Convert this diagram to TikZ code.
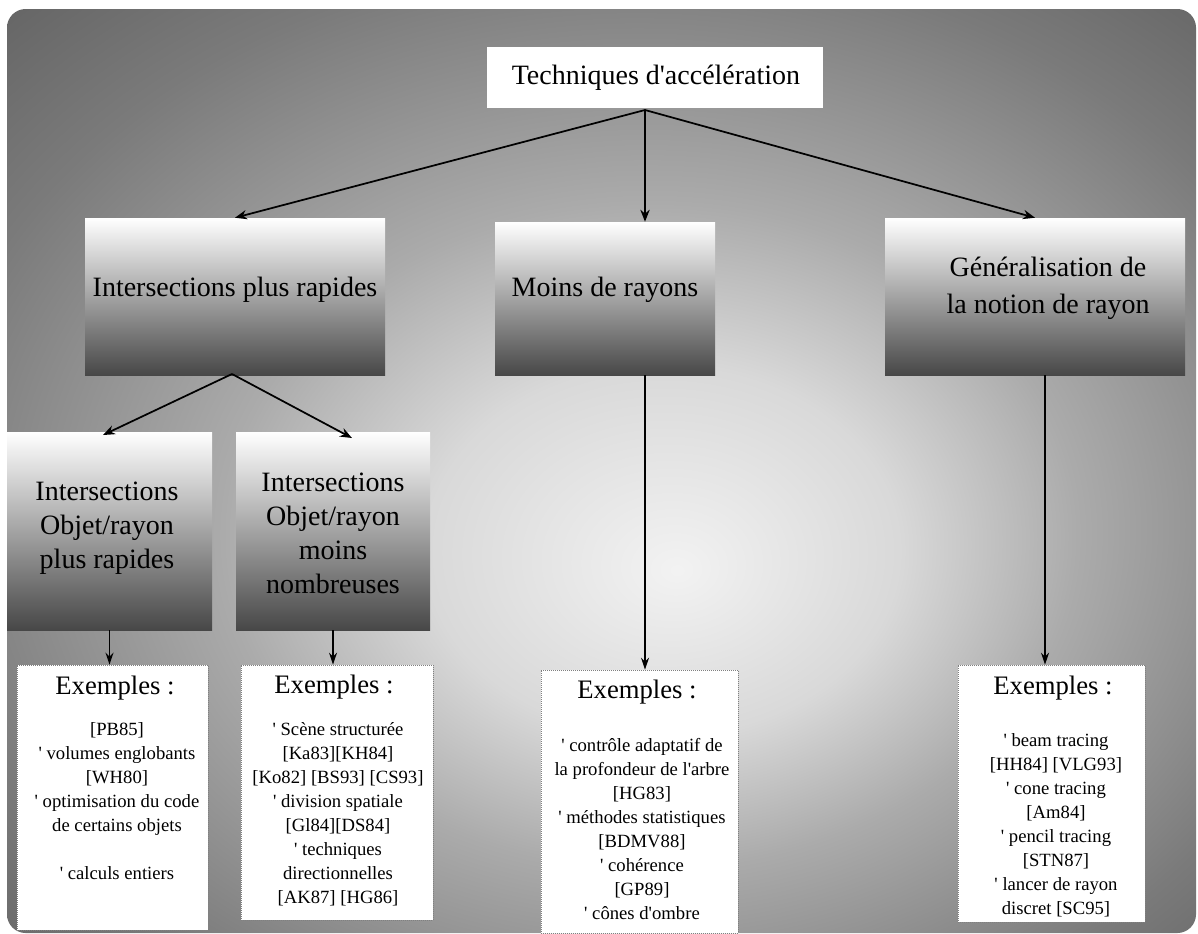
\documentclass[tikz,border=0pt]{standalone}
\usepackage{fontspec}
\setmainfont{Liberation Serif}
\usetikzlibrary{arrows.meta,fit}

% light centre fading to a dark rim
\pgfdeclareradialshading{backdrop}{\pgfpoint{3.2bp}{-5.4bp}}{%
  color(0bp)=(black!5); color(10bp)=(black!15); color(18bp)=(black!33);
  color(30bp)=(black!52); color(42bp)=(black!66); color(50bp)=(black!72)}

\newcommand\bul{\textquotesingle\ }
\newcommand\apo{\textquotesingle}

\tikzset{
  grad/.style={inner sep=0, draw=none, top color=white, middle color=black!28, bottom color=black!72},
  exbox/.style={inner sep=0, fill=white, draw=black!50, densely dotted, line width=0.5pt},
  big/.style={font=\fontsize{21}{26}\selectfont, align=center, inner sep=0},
  head/.style={font=\fontsize{20}{24}\selectfont, inner sep=0},
  body/.style={font=\fontsize{14}{18}\selectfont, align=center, anchor=north, inner sep=0},
  arr/.style={-{Stealth[length=9pt,width=7pt]}, line width=1.3pt},
  arrv/.style={-{Stealth[length=9pt,width=6pt]}, line width=1pt},
}

\begin{document}
\begin{tikzpicture}[x=0.75pt,y=-0.75pt]
\useasboundingbox (0,0) rectangle (1198,933);
\fill[white] (0,0) rectangle (1198,933);
\shade[shading=backdrop, rounded corners=14] (7,9) rectangle (1196,933);

% root
\node[fit={(487,47)(823,108)}, fill=white, inner sep=0] (title) {};
\node[head, font=\fontsize{21}{24}\selectfont] (titletxt) at (656,78) {Techniques d\apo accélération};

% second level
\node[grad, fit={(85,218)(385,375)}] (fast) {};
\node[big] (fasttxt) at (235,290) {Intersections plus rapides};
\node[grad, fit={(495,222)(715,375)}] (fewer) {};
\node[big] (fewertxt) at (605,290) {Moins de rayons};
\node[grad, fit={(885,218)(1185,375)}] (general) {};
\node[big, font=\fontsize{21}{28}\selectfont] (generaltxt) at (1048,288) {Généralisation de\\la notion de rayon};

% third level
\node[grad, fit={(7,432)(212,630)}] (objfast) {};
\node[big, font=\fontsize{21}{25.5}\selectfont] (objfasttxt) at (107,528) {Intersections\\Objet/rayon\\plus rapides};
\node[grad, fit={(236,432)(430,630)}] (objfew) {};
\node[big, font=\fontsize{21}{25.5}\selectfont] (objfewtxt) at (333,533) {Intersections\\Objet/rayon\\moins\\nombreuses};

% example boxes
\node[exbox, fit={(17,665)(208,930)}] (ex1) {};
\node[exbox, fit={(241,665)(433,920)}] (ex2) {};
\node[exbox, fit={(541,670)(738,933)}] (ex3) {};
\node[exbox, fit={(958,665)(1145,922)}] (ex4) {};

\node[head] (ex1head) at (115,688) {Exemples :};
\node[head] (ex2head) at (334,687) {Exemples :};
\node[head] (ex3head) at (637,692) {Exemples :};
\node[head] (ex4head) at (1053,688) {Exemples :};

\node[body] (ex1txt) at (117,722) {{[PB85]}\\\bul volumes englobants\\{[WH80]}\\\bul optimisation du code\\de certains objets\\[18pt]\bul calculs entiers};
\node[body] (ex2txt) at (338,722) {\bul Scène structurée\\{[Ka83][KH84]}\\{[Ko82] [BS93] [CS93]}\\\bul division spatiale\\{[Gl84][DS84]}\\\bul techniques\\directionnelles\\{[AK87] [HG86]}};
\node[body] (ex3txt) at (642,738) {\bul contrôle adaptatif de\\la profondeur de l\apo arbre\\{[HG83]}\\\bul méthodes statistiques\\{[BDMV88]}\\\bul cohérence\\{[GP89]}\\\bul cônes d\apo ombre};
\node[body] (ex4txt) at (1056,733) {\bul beam tracing\\{[HH84] [VLG93]}\\\bul cone tracing\\{[Am84]}\\\bul pencil tracing\\{[STN87]}\\\bul lancer de rayon\\discret [SC95]};

% connectors
\coordinate (apex) at (645,110);
\coordinate (split) at (232,374);
\coordinate (rdrop) at (1045,375);
\coordinate (lefttip) at (103,435);
\coordinate (righttip) at (352,438);

\draw[arr] (apex) -- (fast.north);
\draw[arr] (apex) -- (apex |- fewer.north);
\draw[arr] (apex) -- (general.north);

\draw[arr] (split) -- (lefttip);
\draw[arr] (split) -- (righttip);

\draw[arrv] (objfast.south) -- (objfast.south |- ex1.north);
\draw[arrv] (objfew.south) -- (objfew.south |- ex2.north);
\draw[arrv] (apex |- fewer.south) -- (apex |- ex3.north);
\draw[arrv] (rdrop) -- (rdrop |- ex4.north);
\end{tikzpicture}
\end{document}
